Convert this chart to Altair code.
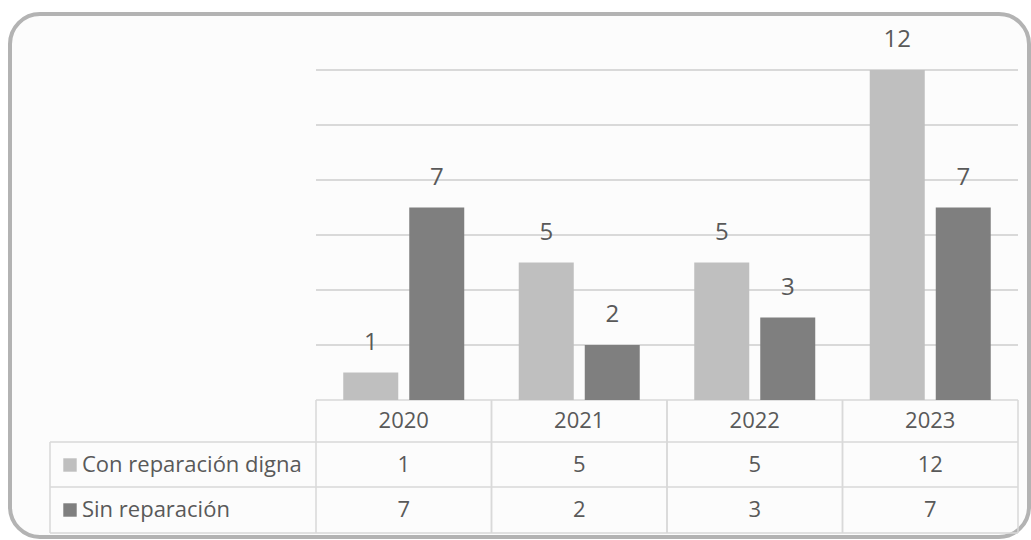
import altair as alt
import pandas as pd

years = ["2020", "2021", "2022", "2023"]
con_reparacion = [1, 5, 5, 12]
sin_reparacion = [7, 2, 3, 7]
series = ["Con reparación digna", "Sin reparación"]
colors = ["#bfbfbf", "#7f7f7f"]
grid_values = [2, 4, 6, 8, 10, 12]

rows = []
for y, a, b in zip(years, con_reparacion, sin_reparacion):
    rows.append({"year": y, "serie": series[0], "value": a})
    rows.append({"year": y, "serie": series[1], "value": b})
df = pd.DataFrame(rows)
years_df = pd.DataFrame({"year": years})
grid_df = pd.DataFrame({"v": grid_values})
one = pd.DataFrame({"a": [0]})

FONT = "Open Sans"
TXT = "#595959"
LINE = "#d9d9d9"

X0, X1 = 316, 1018
BASE, TOP = 400, 70

xs = alt.X("year:N", scale=alt.Scale(domain=years, range=[X0, X1], paddingInner=0, paddingOuter=0), axis=None)
ys = alt.Y("value:Q", scale=alt.Scale(domain=[0, 12], range=[BASE, TOP]), axis=None)
xo = alt.XOffset("serie:N", scale=alt.Scale(domain=series, paddingInner=0.1667, paddingOuter=0.413))
col = alt.Color("serie:N", scale=alt.Scale(domain=series, range=colors), legend=None)

frame = alt.Chart(one).mark_rect(fill="#fcfcfc", stroke="#b3b3b3", strokeWidth=4, cornerRadius=30).encode(
    x=alt.value(10), x2=alt.value(1029), y=alt.value(14), y2=alt.value(537)
)

grid = alt.Chart(grid_df).mark_rule(color=LINE, strokeWidth=2).encode(
    y=alt.Y("v:Q", scale=alt.Scale(domain=[0, 12], range=[BASE, TOP]), axis=None),
    x=alt.value(X0), x2=alt.value(X1)
)

bars = alt.Chart(df).mark_bar().encode(x=xs, xOffset=xo, y=ys, color=col)
labels = alt.Chart(df).mark_text(font=FONT, fontSize=24, color=TXT, dy=-30, baseline="middle").encode(
    x=xs, xOffset=xo, y=ys, text="value:Q"
)

# table lines
hlines = []
for yv, xl in [(400, X0), (442, 50), (487, 50), (533, 50)]:
    hlines.append(alt.Chart(one).mark_rule(color=LINE, strokeWidth=1.5).encode(
        x=alt.value(xl), x2=alt.value(X1), y=alt.value(yv)))
vleft = alt.Chart(years_df).mark_rule(color=LINE, strokeWidth=1.5).encode(
    x=alt.X("year:N", bandPosition=0, scale=alt.Scale(domain=years, range=[X0, X1], paddingInner=0, paddingOuter=0), axis=None),
    y=alt.value(400), y2=alt.value(533))
vright = alt.Chart(years_df).mark_rule(color=LINE, strokeWidth=1.5).encode(
    x=alt.X("year:N", bandPosition=1, scale=alt.Scale(domain=years, range=[X0, X1], paddingInner=0, paddingOuter=0), axis=None),
    y=alt.value(400), y2=alt.value(533))
vfirst = alt.Chart(one).mark_rule(color=LINE, strokeWidth=1.5).encode(
    x=alt.value(50), y=alt.value(442), y2=alt.value(533))

header = alt.Chart(years_df).mark_text(font=FONT, fontSize=22, color=TXT, baseline="middle").encode(
    x=xs, y=alt.value(421), text="year:N")

cells = []
swatches = []
rowlabels = []
for s, yv in zip(series, [465, 510]):
    sub = df[df["serie"] == s]
    cells.append(alt.Chart(sub).mark_text(font=FONT, fontSize=22, color=TXT, baseline="middle").encode(
        x=xs, y=alt.value(yv), text="value:Q"))
    swatches.append(alt.Chart(pd.DataFrame({"serie": [s]})).mark_square(size=180, opacity=1).encode(
        x=alt.value(70), y=alt.value(yv), color=col))
    rowlabels.append(alt.Chart(pd.DataFrame({"serie": [s]})).mark_text(
        font=FONT, fontSize=22, color=TXT, align="left", baseline="middle").encode(
        x=alt.value(82), y=alt.value(yv), text="serie:N"))

chart = alt.layer(
    frame, grid, *hlines, vleft, vright, vfirst, bars, labels, header, *cells, *swatches, *rowlabels
).properties(
    width=1031, height=540, autosize=alt.AutoSizeParams(type="none"), padding=0, background="white"
).configure_view(stroke=None)

chart.save("out.html", embed_options={"renderer": "svg", "actions": False})
